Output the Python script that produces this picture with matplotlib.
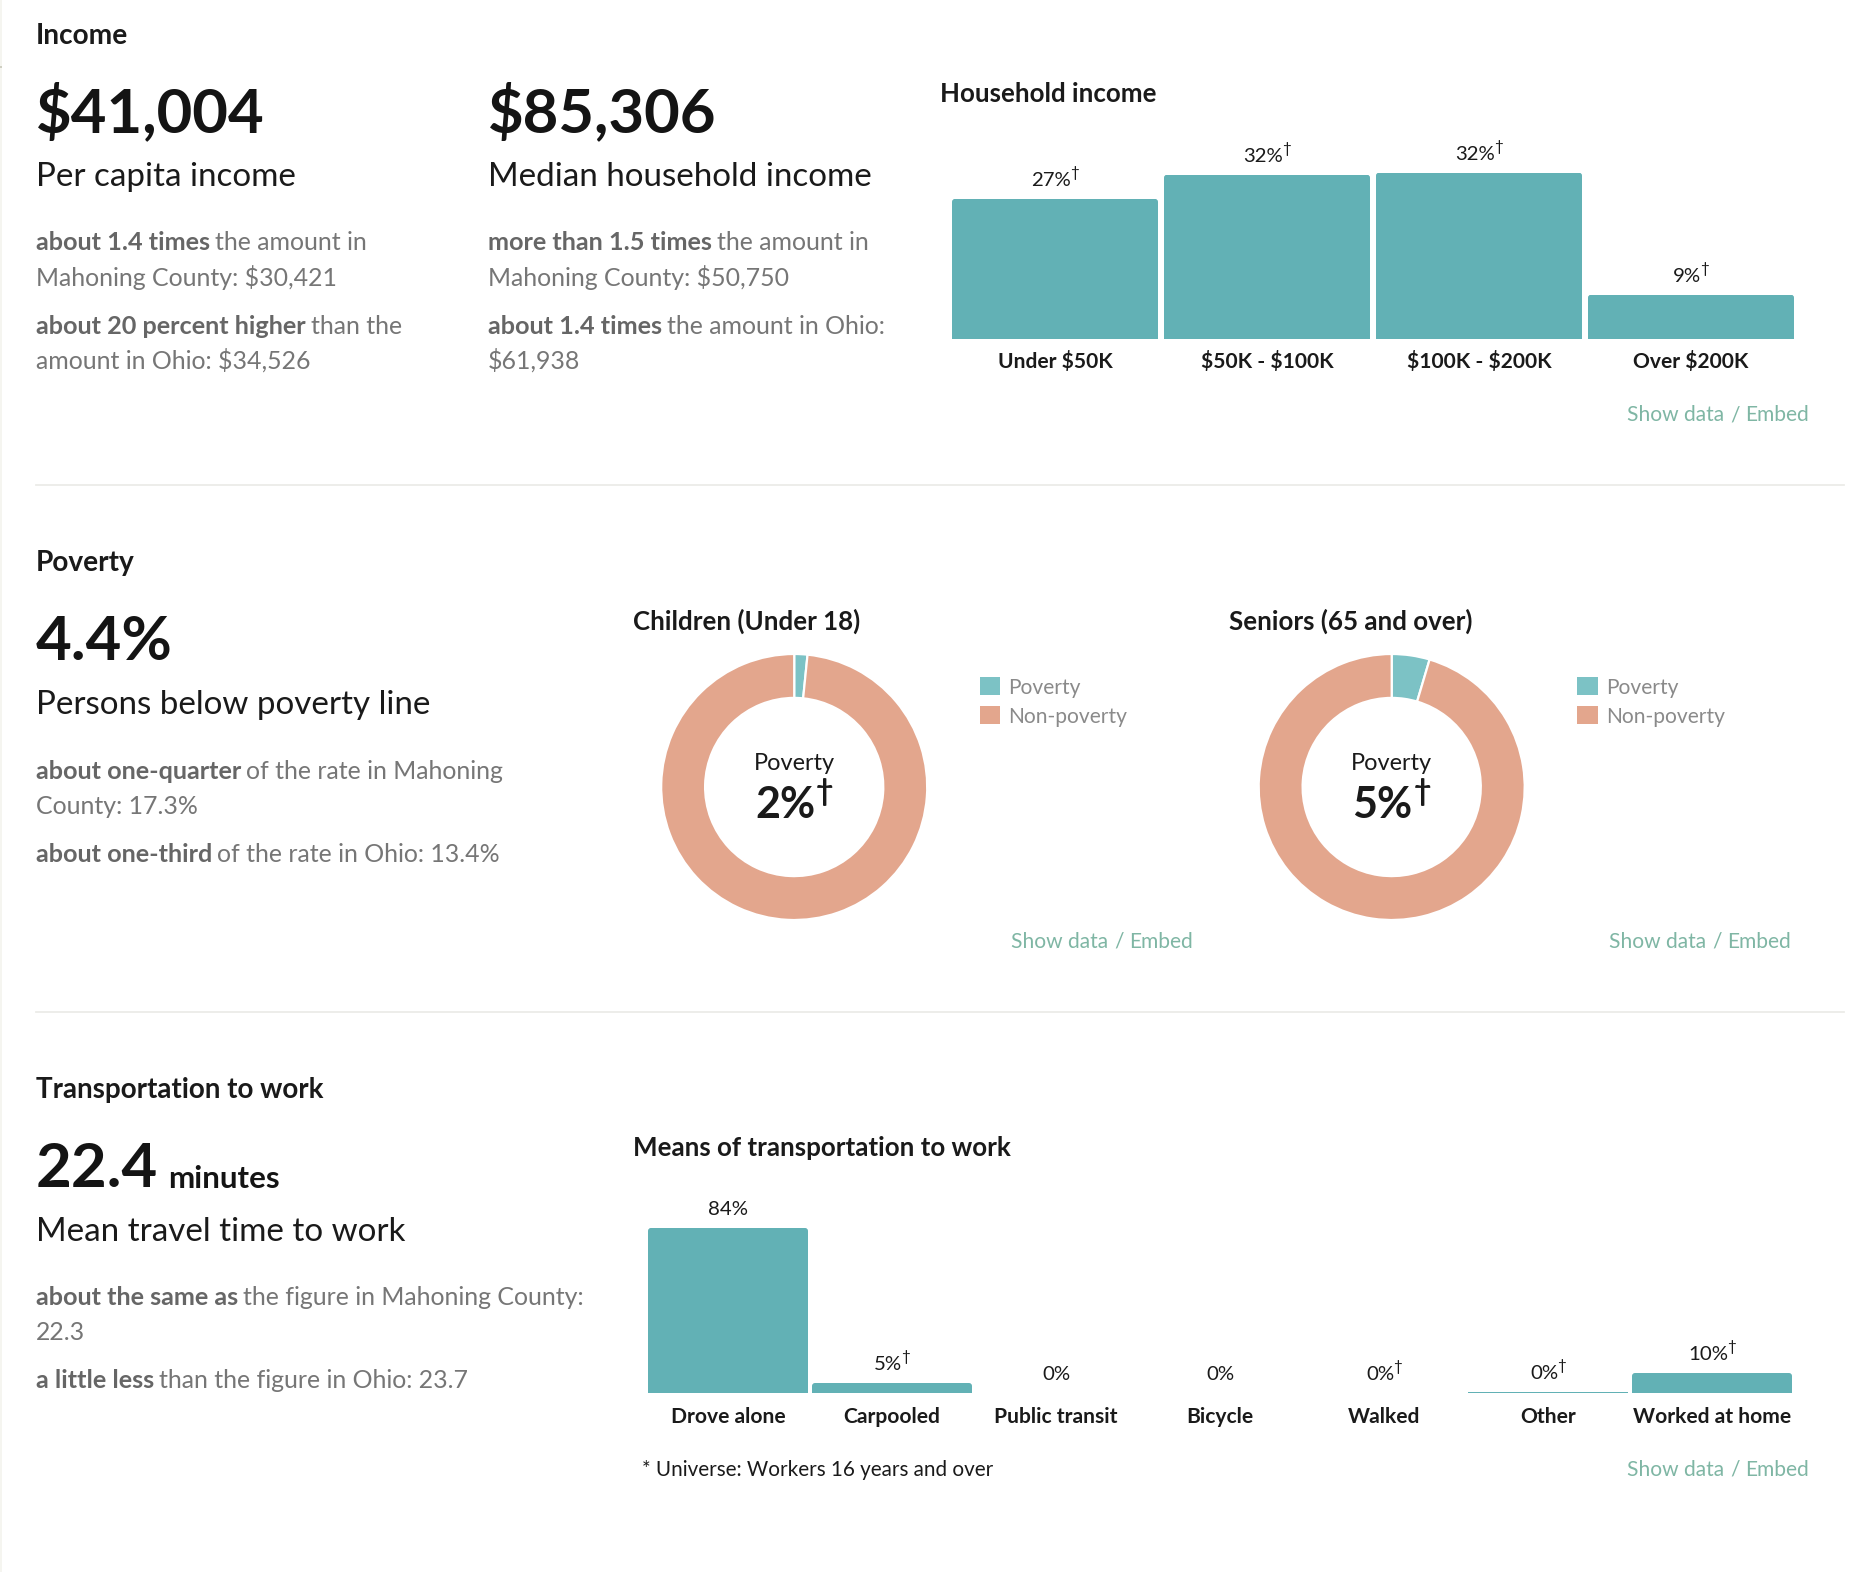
import matplotlib
matplotlib.use("Agg")
import matplotlib.pyplot as plt
from matplotlib.legend_handler import HandlerPatch
from matplotlib.patches import FancyBboxPatch, Rectangle, Wedge
from matplotlib.transforms import IdentityTransform

W, H = 1876, 1572
plt.rcParams['font.family'] = ['Lato', 'DejaVu Sans']

# ---- data ----
income_cats = ['Under $50K', '$50K - $100K', '$100K - $200K', 'Over $200K']
income_vals = [27.2, 31.9, 32.3, 8.6]
income_labels = ['27%', '32%', '32%', '9%']
income_dagger = [True, True, True, True]

poverty_names = ['Poverty', 'Non-poverty']
children_vals = [1.6, 98.4]
seniors_vals = [4.6, 95.4]

trans_cats = ['Drove alone', 'Carpooled', 'Public transit', 'Bicycle', 'Walked', 'Other', 'Worked at home']
trans_vals = [84.2, 5.1, 0.0, 0.0, 0.0, 0.5, 10.2]
trans_labels = ['84%', '5%', '0%', '0%', '0%', '0%', '10%']
trans_dagger = [False, True, False, False, True, True, True]

# ---- style ----
INK = '#1a1a1a'
BIG = '#141414'
BODY = '#767676'
BODYB = '#666666'
LINK = '#7fb6a4'
BAR = '#62b1b5'
TEAL = '#7cc2c5'
SALMON = '#e3a68d'
RULE = '#ecece8'
BODY_SIZE = 24.9
BIG_SIZE = 61.6
SUB_SIZE = 33.1
HEAD_SIZE = 28.0
CHART_TITLE = 25.9

fig = plt.figure(figsize=(W / 100, H / 100), dpi=100, facecolor='white')
renderer = fig.canvas.get_renderer()


def pt(px):
    return px * 0.72


def width(s, size, weight='normal'):
    t = fig.text(0, 0, 'x' + s + 'x', fontsize=pt(size), fontweight=weight, parse_math=False)
    w1 = t.get_window_extent(renderer).width
    t.set_text('xx')
    w2 = t.get_window_extent(renderer).width
    t.remove()
    return w1 - w2


def put(x, y, s, size, color=INK, weight='normal', ha='left'):
    """Text with its baseline at pixel (x, y), y measured from the top."""
    return fig.text(x / W, 1 - y / H, s, fontsize=pt(size), color=color, parse_math=False,
                    fontweight=weight, ha=ha, va='baseline')


def rich(x, y, bold, regular, size=BODY_SIZE):
    put(x, y, bold, size * 1.015, BODYB, 'bold')
    put(x + width(bold, size * 1.015, 'bold') + size * 0.2, y, regular, size, BODY)


def links(right, y):
    put(right, y, 'Embed', 21, LINK, ha='right')
    put(right - 74, y, '/', 21, LINK, ha='center')
    put(right - 85, y, 'Show data', 21, LINK, ha='right')


def axes_px(x0, y0, x1, y1):
    return fig.add_axes([x0 / W, 1 - y1 / H, (x1 - x0) / W, (y1 - y0) / H])


def round_tops(ax, bars, r=3):
    for b in bars:
        if b.get_height() <= 0:
            continue
        e = b.get_window_extent(renderer)
        if e.height < 2:
            continue
        clip = FancyBboxPatch((e.x0, e.y0 - r), e.width, e.height + r,
                              boxstyle=f'round,pad=0,rounding_size={r}',
                              transform=IdentityTransform(), fc='none', ec='none')
        b.set_clip_path(clip)


def bar_chart(box, cats, vals, labels, daggers, bar_width, ymax, tick_pad, label_off,
              lab_size=20.4, cat_size=21.0):
    x0, y0, x1, y1 = box
    ax = axes_px(x0, y0, x1, y1)
    ax.patch.set_visible(False)
    n = len(cats)
    bars = ax.bar(range(n), vals, width=bar_width, color=BAR, linewidth=0)
    ax.set_xlim(-0.5, n - 0.5)
    ax.set_ylim(0, ymax)
    ax.set_yticks([])
    for s in ax.spines.values():
        s.set_visible(False)
    ax.set_xticks(range(n))
    ax.set_xticklabels(cats, fontsize=pt(cat_size), fontweight='bold', color=INK)
    ax.tick_params(axis='x', length=0, pad=pt(tick_pad))
    for lab in ax.get_xticklabels():
        lab.set_va('baseline')
        lab.set_parse_math(False)
    round_tops(ax, bars)
    for i, (v, lab, d) in enumerate(zip(vals, labels, daggers)):
        w = width(lab, lab_size)
        dw = width('†', 15) if d else 0
        total = w + dw - (1 if d else 0)
        ax.annotate(lab, (i, v), xytext=(-total / 2, label_off), textcoords='offset pixels',
                    ha='left', va='baseline', fontsize=pt(lab_size), color=INK)
        if d:
            ax.annotate('†', (i, v), xytext=(-total / 2 + w - 1, label_off + 9),
                        textcoords='offset pixels', ha='left', va='baseline',
                        fontsize=pt(15), color=INK)
    return ax


def donut(cx, cy, r, vals, big):
    ax = axes_px(cx - r, cy - r, cx + r, cy + r)
    wedges, _ = ax.pie(vals, colors=[TEAL, SALMON], startangle=90, counterclock=False, radius=1,
                       wedgeprops=dict(width=0.33, edgecolor='white', linewidth=1.6))
    ax.set_xlim(-1, 1)
    ax.set_ylim(-1, 1)
    ax.legend(wedges, poverty_names, loc='upper left',
              bbox_to_anchor=(cx + 185.5, H - (cy - 110)), bbox_transform=IdentityTransform(),
              frameon=False, borderpad=0, borderaxespad=0, handlelength=0.98, handleheight=1.075,
              handletextpad=0.38, labelspacing=0.38, fontsize=pt(21), labelcolor='#8a8a8a',
              handler_map={Wedge: HandlerPatch(ypad=0.095)})
    for h in ax.get_legend().legend_handles:
        h.set_edgecolor('none')
        h.set_linewidth(0)
    put(cx, cy - 17, 'Poverty', 23.5, INK, ha='center')
    w = width(big, 43, 'bold')
    dw = width('†', 30, 'bold')
    left = cx - (w + dw + 1) / 2
    put(left, cy + 31, big, 43, INK, 'bold')
    put(left + w + 1, cy + 14, '†', 30, INK, 'bold')


def stat_block(x, y_big, big, sub, paras):
    put(x, y_big, big, BIG_SIZE, BIG, 'bold')
    put(x, y_big + 54, sub, SUB_SIZE, INK)
    for (yy, b, r) in paras:
        if b:
            rich(x, y_big + yy, b, r)
        else:
            put(x, y_big + yy, r, BODY_SIZE, BODY)


# ---- page edge ----
fig.add_artist(Rectangle((0, 0), 2 / W, 1, transform=fig.transFigure, fc='#f5f5f0', ec='none'))
fig.add_artist(Rectangle((0, 1 - 68 / H), 2 / W, 2 / H, transform=fig.transFigure, fc='#cfcfc2', ec='none'))

# ---- Income ----
put(36, 44, 'Income', HEAD_SIZE, INK, 'bold')
stat_block(36, 132, '$41,004', 'Per capita income', [
    (118, 'about 1.4 times', 'the amount in'),
    (154, '', 'Mahoning County: $30,421'),
    (202, 'about 20 percent higher', 'than the'),
    (237, '', 'amount in Ohio: $34,526'),
])
stat_block(488, 132, '$85,306', 'Median household income', [
    (118, 'more than 1.5 times', 'the amount in'),
    (154, '', 'Mahoning County: $50,750'),
    (202, 'about 1.4 times', 'the amount in Ohio:'),
    (237, '', '$61,938'),
])
put(940, 102, 'Household income', CHART_TITLE, INK, 'bold')
bar_chart((949, 100, 1797, 339), income_cats, income_vals, income_labels, income_dagger,
          206 / 212, 239 / 5.15, 29, 13)
links(1809, 421)

fig.add_artist(plt.Line2D([36 / W, 1844 / W], [1 - 484.7 / H] * 2, color=RULE, lw=1.3))

# ---- Poverty ----
put(36, 571, 'Poverty', HEAD_SIZE, INK, 'bold')
stat_block(36, 660, '4.4%', 'Persons below poverty line', [
    (119, 'about one-quarter', 'of the rate in Mahoning'),
    (154, '', 'County: 17.3%'),
    (202, 'about one-third', 'of the rate in Ohio: 13.4%'),
])
put(633, 630, 'Children (Under 18)', CHART_TITLE, INK, 'bold')
put(1229, 630, 'Seniors (65 and over)', CHART_TITLE, INK, 'bold')
donut(794.2, 787, 133, children_vals, '2%')
donut(1391.7, 787, 133, seniors_vals, '5%')
links(1193, 948)
links(1791, 948)

fig.add_artist(plt.Line2D([36 / W, 1844 / W], [1 - 1012 / H] * 2, color=RULE, lw=1.3))

# ---- Transportation ----
put(36, 1098, 'Transportation to work', 27.8, INK, 'bold')
stat_block(36, 1187, '22.4', 'Mean travel time to work', [
    (118, 'about the same as', 'the figure in Mahoning County:'),
    (153, '', '22.3'),
    (201, 'a little less', 'than the figure in Ohio: 23.7'),
])
put(168, 1188, 'minutes', 31.3, BIG, 'bold')
put(633, 1156, 'Means of transportation to work', CHART_TITLE, INK, 'bold')
bar_chart((646, 1190, 1794, 1393), trans_cats, trans_vals, trans_labels, trans_dagger,
          160 / 164, 203 / 1.96, 30, 13)
put(642.5, 1476, '* Universe: Workers 16 years and over', 20.6, INK)
links(1809, 1476)

fig.savefig('out.png', dpi=100, facecolor='white')
